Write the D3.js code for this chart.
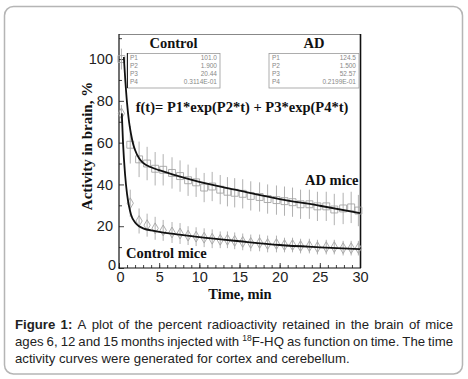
<!DOCTYPE html>
<html><head><meta charset="utf-8">
<script src="https://cdn.jsdelivr.net/npm/d3@7"></script>
<style>body{margin:0;background:#fff}svg{display:block}</style>
</head><body>
<svg id="c" width="468" height="379"></svg>
<script>
// ---- data ----
const times = [0.3,1.4,2.5,3.5,4.5,5.5,6.6,7.6,8.6,9.6,10.6,11.6,12.6,13.5,14.4,15.4,16.4,17.5,18.5,19.6,20.6,21.6,22.6,23.7,24.7,25.8,26.8,27.9,28.9,29.8];
const adValues = [100,59,52,50,47.5,47,45.5,44,42,41,38.5,39,37.5,36.5,36,35.5,34.5,34,33,32.5,32,31.5,30.5,30.5,29.5,29.5,28,28.5,29,27.5];
const adErrors = [5,9,8.5,8,8,7.5,7.5,7.5,7.5,7,7,7,7,7,7,7,7,7,7,7,7,7,7,7,7,7,7.5,7.5,7.5,7.5];
const ctrlValues = [74,31,22.5,20.5,19,18,17,16.5,15.5,15,14.5,14,13.5,13.5,13,12.5,12,12,11.5,11.5,11,11,10.5,10.5,10,10,10,9.5,9.5,9.5];
const ctrlErrors = [4,6.5,6,5.5,5.5,5,5,5,4.5,4.5,4.5,4.5,4,4,4,4,4,4,4,4,3.5,3.5,3.5,3.5,3.5,3.5,3.5,3.5,3.5,3.5];
const adFitT = [0.6,0.8,1,1.25,1.5,1.75,2,2.5,3,4,5,7.5,10,15,20,25,30];
const adFitV = [101,89,79,70,64,59.5,56.5,52.5,50.3,48.2,46.8,43.8,41.2,37,33,29.8,26.3];
const ctrlFitT = [0.35,0.5,0.75,1,1.25,1.5,2,2.5,3,4,5,7.5,10,15,20,25,30];
const ctrlFitV = [74,60,45,35.5,29.5,25.5,21.8,20,19,18,17.3,16,14.8,12.8,11,9.9,9];
const xTicks = [0,5,10,15,20,25,30];
const yTicks = [0,20,40,60,80,100];
const paramNames = ["P1","P2","P3","P4"];
const ctrlParams = ["101.0","1.900","20.44","0.3114E-01"];
const adParams = ["124.5","1.500","52.57","0.2199E-01"];
const captionLines = [
  ["Figure 1:", "A plot of the percent radioactivity retained in the brain of mice"],
  ["", "ages 6, 12 and 15 months injected with ^18^F-HQ as function on time. The time"],
  ["", "activity curves were generated for cortex and cerebellum."]
];

const svg = d3.select("#c");
const serif = "'Liberation Serif','DejaVu Serif',serif";
const sans = "'Liberation Sans',Arial,sans-serif";

// outer rounded frame
svg.append("rect").attr("x",4.5).attr("y",6.5).attr("width",458).attr("height",367.5)
  .attr("rx",9).attr("fill","none").attr("stroke","#b5b5b5").attr("stroke-width",1.5);

const x = d3.scaleLinear().domain([0,30]).range([119,360]);
const y = d3.scaleLinear().domain([0,112]).range([268,34]);

// axes (inward ticks)
const gx = svg.append("g").attr("transform","translate(0,268)")
  .call(d3.axisBottom(x).tickValues(xTicks).tickSizeInner(-5).tickSizeOuter(0).tickPadding(4).tickFormat(d3.format("d")));
const gxm = svg.append("g").attr("transform","translate(0,268)")
  .call(d3.axisBottom(x).tickValues(d3.range(1,30)).tickSize(-3).tickFormat(""));
const gy = svg.append("g").attr("transform","translate(119,0)")
  .call(d3.axisLeft(y).tickValues(yTicks).tickSizeInner(-5).tickSizeOuter(0).tickPadding(6).tickFormat(d3.format("d")));
const gym = svg.append("g").attr("transform","translate(119,0)")
  .call(d3.axisLeft(y).tickValues([10,30,50,70,90,110]).tickSize(-3).tickFormat(""));
[gx,gxm,gy,gym].forEach(g=>{g.select(".domain").remove();
  g.selectAll("line").attr("stroke","#444");
  g.selectAll("text").attr("font-family",sans).attr("font-size",14.5).attr("fill","#222");});
gx.selectAll("text").attr("dy","0.68em");
gx.selectAll(".tick").filter(d=>d===0).select("text").attr("dx",1);
gy.selectAll(".tick").filter(d=>d===0).select("text").attr("dy","0.1em").attr("dx",3);

// plot frame
svg.append("line").attr("x1",119).attr("x2",361).attr("y1",34.5).attr("y2",34.5).attr("stroke","#888").attr("stroke-width",1);
svg.append("line").attr("x1",360.5).attr("x2",360.5).attr("y1",34).attr("y2",268).attr("stroke","#111").attr("stroke-width",1.6);
svg.append("line").attr("x1",119).attr("x2",119).attr("y1",34).attr("y2",268.5).attr("stroke","#111").attr("stroke-width",1.2);
svg.append("line").attr("x1",118.5).attr("x2",361).attr("y1",268).attr("y2",268).attr("stroke","#111").attr("stroke-width",1.2);

// parameter boxes
function paramBox(x0,x1,vals,title){
  const bx = svg.append("g");
  bx.append("rect").attr("x",x0).attr("y",53.5).attr("width",x1-x0).attr("height",34.5)
    .attr("fill","#fff").attr("stroke","#999").attr("stroke-width",0.8);
  paramNames.forEach((p,i)=>{
    const yy = 59.5 + i*8.2;
    bx.append("text").attr("x",x0+3).attr("y",yy).text(p)
      .attr("font-family",sans).attr("font-size",6.5).attr("fill","#888");
    bx.append("text").attr("x",x1-3).attr("y",yy).attr("text-anchor","end").text(vals[i])
      .attr("font-family",sans).attr("font-size",6.5).attr("fill","#888");
  });
  svg.append("text").attr("x",(x0+x1)/2).attr("y",48).attr("text-anchor","middle")
    .attr("font-family",serif).attr("font-weight","bold").attr("font-size",14.5).attr("fill","#111").text(title);
}
paramBox(127,220,ctrlParams,"Control");
paramBox(269,359,adParams,"AD");
svg.append("line").attr("x1",127.5).attr("x2",127.5).attr("y1",53).attr("y2",88).attr("stroke","#222").attr("stroke-width",1);

// formula
svg.append("text").attr("x",242).attr("y",112).attr("text-anchor","middle")
  .attr("font-family",serif).attr("font-weight","bold").attr("font-size",14.5).attr("fill","#111")
  .text("f(t)= P1*exp(P2*t) + P3*exp(P4*t)");

// error bars & markers
function series(vals,errs,symbol,size){
  const g = svg.append("g");
  g.selectAll("line.e").data(times).join("line")
    .attr("x1",(t)=>x(t)).attr("x2",(t)=>x(t))
    .attr("y1",(t,i)=>y(Math.min(vals[i]+errs[i],111))).attr("y2",(t,i)=>y(vals[i]-errs[i]))
    .attr("stroke","#a8a8a8").attr("stroke-width",0.9);
  g.selectAll("path.m").data(times).join("path")
    .attr("transform",(t,i)=>`translate(${x(t)},${y(vals[i])})`)
    .attr("d",d3.symbol().type(symbol).size(size))
    .attr("fill","none").attr("stroke","#a5a5a5").attr("stroke-width",0.9);
}
series(adValues,adErrors,d3.symbolSquare,48);
series(ctrlValues,ctrlErrors,d3.symbolDiamond,34);

// fitted curves
const line = d3.line().x(d=>x(d[0])).y(d=>y(d[1])).curve(d3.curveMonotoneX);
svg.append("path").attr("d",line(adFitT.map((t,i)=>[t,adFitV[i]])))
  .attr("fill","none").attr("stroke","#111").attr("stroke-width",1.8);
svg.append("path").attr("d",line(ctrlFitT.map((t,i)=>[t,ctrlFitV[i]])))
  .attr("fill","none").attr("stroke","#111").attr("stroke-width",1.8);

// labels
const lab = (t,xx,yy,anchor,fs)=>svg.append("text").attr("x",xx).attr("y",yy).attr("text-anchor",anchor||"start")
  .attr("font-family",serif).attr("font-weight","bold").attr("font-size",fs||14.5).attr("fill","#111").text(t);
lab("AD mice",305,185);
lab("Control mice",126,258);
lab("Time, min",240,299,"middle");
svg.append("text").attr("transform","translate(92,146) rotate(-90)").attr("text-anchor","middle")
  .attr("font-family",serif).attr("font-weight","bold").attr("font-size",15).attr("fill","#111")
  .text("Activity in brain, %");

// caption with justified lines
const capG = svg.append("g").attr("font-family",sans).attr("font-size",13.2).attr("fill","#222");
const left = 15, right = 453;
captionLines.forEach((ln,li)=>{
  const yy = 329 + li*17;
  const words = [];
  if(ln[0]) ln[0].split(" ").forEach(w=>words.push({w,bold:true}));
  ln[1].split(" ").forEach(w=>words.push({w,bold:false}));
  const nodes = words.map(o=>{
    const t = capG.append("text").attr("y",yy).attr("font-weight",o.bold?"bold":"normal");
    const m = o.w.match(/^\^(\d+)\^(.*)$/);
    if(m){
      t.append("tspan").attr("font-size",8.5).attr("dy",-5).text(m[1]);
      t.append("tspan").attr("dy",5).text(m[2]);
    } else t.text(o.w);
    return t;
  });
  const widths = nodes.map(n=>n.node().getComputedTextLength());
  const total = d3.sum(widths);
  const justify = li < captionLines.length-1;
  const gap = justify ? (right-left-total)/(nodes.length-1) : 3.7;
  let cx = left;
  nodes.forEach((n,i)=>{n.attr("x",cx); cx += widths[i]+gap;});
});
</script>
</body></html>
